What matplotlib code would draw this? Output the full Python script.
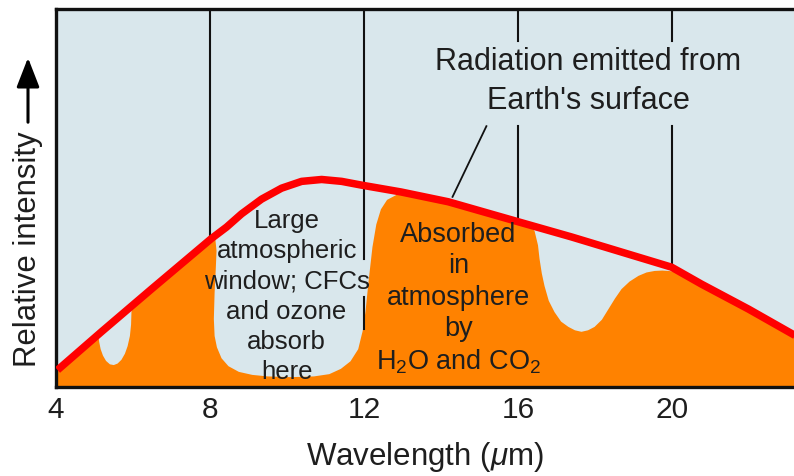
import matplotlib
matplotlib.use('Agg')
import matplotlib.pyplot as plt
from matplotlib.patches import FancyArrowPatch

# ============================================================
# A. DATA
# ============================================================

# Radiation emitted from Earth's surface (red curve)
emit_wl = [4.04, 5.18, 6.48, 8.04, 8.43, 8.82, 9.34, 9.86, 10.38, 10.90,
           11.42, 11.94, 12.45, 12.96, 14.19, 16.01, 17.39, 18.69,
           19.99, 20.77, 21.99, 23.22]
emit_int = [4.5, 14.6, 25.9, 39.3, 42.3, 45.8, 49.7, 52.6, 54.4, 54.9,
            54.4, 53.4, 52.5, 51.6, 49.0, 43.7, 39.7, 35.7,
            31.7, 27.2, 20.6, 13.5]

# Outline of the absorbed part (orange area)
absorb_wl = [4.00, 4.04, 5.10, 5.12, 5.16, 5.22, 5.30, 5.40, 5.50, 5.60,
             5.70, 5.79, 5.86, 5.92, 5.95, 5.96, 5.99, 6.48, 7.65, 8.12,
             8.14, 8.17, 8.15, 8.12, 8.10, 8.12, 8.18, 8.30, 8.48, 8.75,
             9.10, 9.50, 10.10, 10.70, 11.10, 11.40, 11.65, 11.85, 11.97,
             12.04, 12.12, 12.22, 12.32, 12.44, 12.60, 12.84, 13.28, 14.19,
             16.01, 16.30, 16.43, 16.52, 16.56, 16.62, 16.69, 16.80, 16.95,
             17.12, 17.31, 17.48, 17.65, 17.82, 17.99, 18.18, 18.35, 18.52,
             18.69, 18.90, 19.13, 19.34, 19.55, 19.75, 19.91, 20.17, 20.77,
             21.99, 23.22, 23.22]
absorb_int = [0.0, 4.5, 13.8, 12.0, 10.0, 8.3, 6.9, 6.0, 5.8, 6.2,
              7.2, 8.8, 10.8, 13.5, 16.5, 19.8, 22.0, 25.9, 36.2, 39.9,
              39.0, 36.0, 31.2, 25.0, 18.0, 13.5, 10.5, 7.6, 5.5, 4.0,
              3.2, 2.8, 2.6, 2.8, 3.4, 4.8, 6.8, 10.0, 15.0,
              20.0, 28.0, 37.0, 43.0, 47.0, 49.5, 50.8, 51.0, 48.8,
              43.5, 42.5, 41.3, 37.5, 33.9, 30.0, 26.7, 22.8, 19.8,
              17.3, 15.9, 15.0, 14.6, 15.0, 15.9, 17.8, 20.6, 23.4,
              25.9, 27.9, 29.4, 30.3, 30.7, 30.8, 30.7, 30.4, 27.2,
              20.6, 13.5, 0.0]

# Wavelength markers
tick_wl = [4, 8, 12, 16, 20]
tick_labels = ['4', '8', '12', '16', '20']

# ============================================================
# B. FIGURE
# ============================================================

plt.rcParams['font.family'] = ['Liberation Sans', 'DejaVu Sans']
plt.rcParams['mathtext.fontset'] = 'custom'
plt.rcParams['mathtext.rm'] = 'Liberation Sans'
plt.rcParams['mathtext.it'] = 'Liberation Sans:italic'

text_color = '#1e1e1e'
sky_color = '#d9e7ec'
orange_color = '#ff8200'
red_color = '#ff0000'

fig = plt.figure(figsize=(7.94, 4.77), dpi=100)
ax = fig.add_axes([56 / 794, 1 - 388 / 477, 738 / 794, 378 / 477])
ax.set_facecolor(sky_color)

# ============================================================
# C. ABSORBED AREA & EMISSION CURVE
# ============================================================

ax.fill(absorb_wl, absorb_int, color=orange_color, linewidth=0, zorder=1)

# vertical marker lines (broken where text sits)
line_kw = dict(color='#111111', linewidth=1.5, zorder=2)
ax.plot([8, 8], [100, 39.9], **line_kw)
ax.plot([12, 12], [100, 33.9], **line_kw)
ax.plot([12, 12], [23.8, 15.3], **line_kw)
ax.plot([16, 16], [100, 91.5], **line_kw)
ax.plot([16, 16], [69.0, 43.9], **line_kw)
ax.plot([20, 20], [100, 91.5], **line_kw)
ax.plot([20, 20], [69.0, 32.0], **line_kw)

ax.plot(emit_wl, emit_int, color=red_color, linewidth=5.4,
        solid_capstyle='butt', solid_joinstyle='round', zorder=3)

# pointer from label to curve
ax.plot([15.18, 14.30], [69.0, 50.3], color='#111111', linewidth=1.3,
        zorder=2)

# ============================================================
# D. ANNOTATIONS
# ============================================================

ax.text(17.83, 81.1, "Radiation emitted from\nEarth's surface",
        ha='center', va='center', fontsize=22, linespacing=1.36,
        color=text_color, zorder=4)

ax.text(9.99, 24.2,
        'Large\natmospheric\nwindow; CFCs\nand ozone\nabsorb\nhere',
        ha='center', va='center', fontsize=18.5, linespacing=1.33,
        color=text_color, zorder=4)

ax.text(14.45, 23.5,
        'Absorbed\nin\natmosphere\nby\nH$_2$O and CO$_2$',
        ha='center', va='center', fontsize=19.5, linespacing=1.26,
        color=text_color, zorder=4)

# ============================================================
# E. AXES FORMAT
# ============================================================

ax.set_xlim(4, 23.17)
ax.set_ylim(0, 100)

ax.set_xticks(tick_wl)
ax.set_xticklabels(tick_labels, fontsize=21.5, color=text_color)
ax.set_yticks([])
ax.tick_params(axis='x', length=0, pad=6)

ax.set_xlabel('Wavelength ($\\mu$m)', fontsize=22.5, color=text_color,
              labelpad=11)

for side in ['left', 'top', 'bottom']:
    ax.spines[side].set_linewidth(2.4)
    ax.spines[side].set_color('#111111')
ax.spines['right'].set_visible(False)

# y label with upward arrow
fig.text(28 / 794, 1 - 249 / 477, 'Relative intensity', rotation=90,
         ha='center', va='center', fontsize=22.4, color=text_color)
fig.patches.append(FancyArrowPatch(
    (28 / 794, 1 - 126 / 477), (28 / 794, 1 - 56 / 477),
    transform=fig.transFigure,
    arrowstyle='-|>,head_length=0.9,head_width=0.35',
    mutation_scale=20, linewidth=2.2, color='black'))

# ============================================================
# F. SAVE
# ============================================================

plt.savefig('out.png', dpi=100)
